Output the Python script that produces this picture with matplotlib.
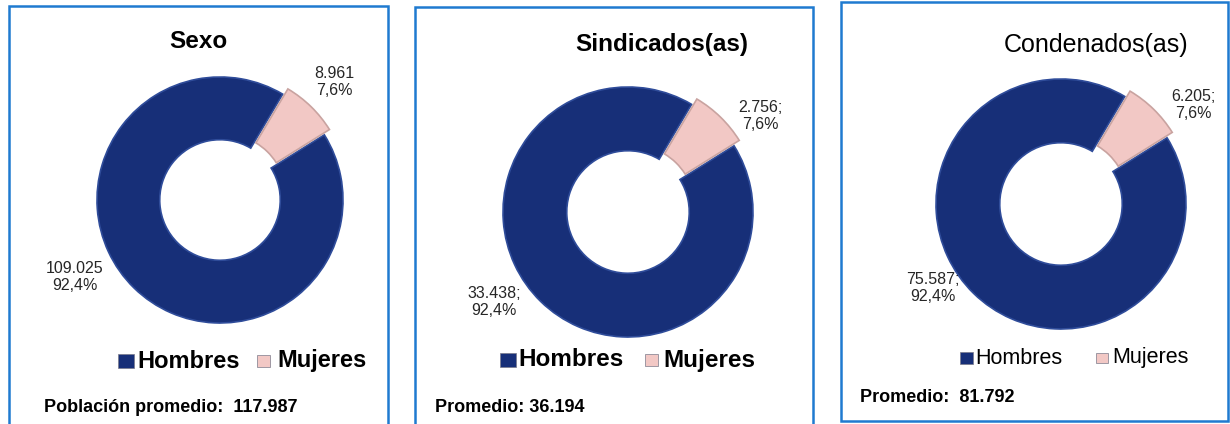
import matplotlib
matplotlib.use("Agg")
import matplotlib.pyplot as plt
from matplotlib.patches import Rectangle

plt.rcParams['font.family'] = ['Liberation Sans', 'DejaVu Sans']

categories = ["Hombres", "Mujeres"]
titles = ["Sexo", "Sindicados(as)", "Condenados(as)"]
sexo = [109025, 8961]
sindicados = [33438, 2756]
condenados = [75587, 6205]
labels_sexo = ["109.025\n92,4%", "8.961\n7,6%"]
labels_sind = ["33.438;\n92,4%", "2.756;\n7,6%"]
labels_cond = ["75.587;\n92,4%", "6.205;\n7,6%"]
footers = ["Población promedio:  117.987", "Promedio: 36.194", "Promedio:  81.792"]

W, H = 1230, 424
fig = plt.figure(figsize=(W / 100, H / 100), dpi=100)

navy = "#172f78"
pink = "#f2c8c5"
border = "#1f7ad0"


def fx(x):
    return x / W


def fy(y):
    return 1 - y / H


# panel borders (pixel coords: left, top, right, bottom)
for l, t, r, b in [(9, 6, 388, 430), (415, 7, 813, 430), (841, 2, 1228, 421)]:
    fig.patches.append(Rectangle((fx(l), fy(b)), fx(r - l), fy(t) - fy(b),
                                 transform=fig.transFigure, fill=False,
                                 edgecolor=border, linewidth=1.8, clip_on=False))

panels = [
    dict(vals=sexo, labs=labels_sexo, cx=220, cy=200, R=123,
         title_xy=(198, 42), title_w="bold", title_s=17.5,
         lab_xy=[(75, 277), (334, 82)],
         leg_y=361, leg=[(118, 134, 137), (257, 270, 277)], leg_w="bold", leg_s=17,
         foot_xy=(44, 408)),
    dict(vals=sindicados, labs=labels_sind, cx=628, cy=212, R=125,
         title_xy=(662, 45), title_w="bold", title_s=17.5,
         lab_xy=[(494, 302), (760, 116)],
         leg_y=360, leg=[(500, 516, 518), (645, 658, 663)], leg_w="bold", leg_s=17.5,
         foot_xy=(435, 408)),
    dict(vals=condenados, labs=labels_cond, cx=1061, cy=204, R=125,
         title_xy=(1096, 45), title_w="normal", title_s=18,
         lab_xy=[(933, 288), (1193, 105)],
         leg_y=358, leg=[(960, 973, 975), (1096, 1108, 1112)], leg_w="normal", leg_s=15.5,
         foot_xy=(860, 398)),
]

for p, title, foot in zip(panels, titles, footers):
    s = 1.3
    half = p["R"] * s
    ax = fig.add_axes([fx(p["cx"] - half), fy(p["cy"] + half), fx(2 * half),
                       fy(p["cy"] - half) - fy(p["cy"] + half)])
    wedges, _ = ax.pie(p["vals"], colors=[navy, pink], startangle=32, counterclock=False,
                       explode=[0, 0.06], radius=1,
                       wedgeprops=dict(width=0.51, linewidth=1.2))
    wedges[0].set_edgecolor("#2f4c9a")
    wedges[1].set_edgecolor("#c9a3a0")
    ax.set_xlim(-s, s)
    ax.set_ylim(-s, s)
    ax.set_aspect("equal")
    ax.axis("off")

    fig.text(fx(p["title_xy"][0]), fy(p["title_xy"][1]), title, ha="center", va="center",
             fontsize=p["title_s"], fontweight=p["title_w"], color="black")
    for (x, y), lab in zip(p["lab_xy"], p["labs"]):
        fig.text(fx(x), fy(y), lab, ha="center", va="center", fontsize=11.5,
                 color="#262626", linespacing=1.12)
    for (m0, m1, tx), cat, col in zip(p["leg"], categories, [navy, pink]):
        sz = m1 - m0
        fig.patches.append(Rectangle((fx(m0), fy(p["leg_y"] + sz * 0.45)), fx(sz), sz * 0.9 / H,
                                     transform=fig.transFigure, facecolor=col,
                                     edgecolor="#7a7a8a", linewidth=0.5))
        fig.text(fx(tx), fy(p["leg_y"]), cat, ha="left", va="center",
                 fontsize=p["leg_s"], fontweight=p["leg_w"], color="black")
    fig.text(fx(p["foot_xy"][0]), fy(p["foot_xy"][1]), foot, ha="left", va="center",
             fontsize=13, fontweight="bold", color="black")

fig.savefig("out.png", dpi=100, facecolor="white")
